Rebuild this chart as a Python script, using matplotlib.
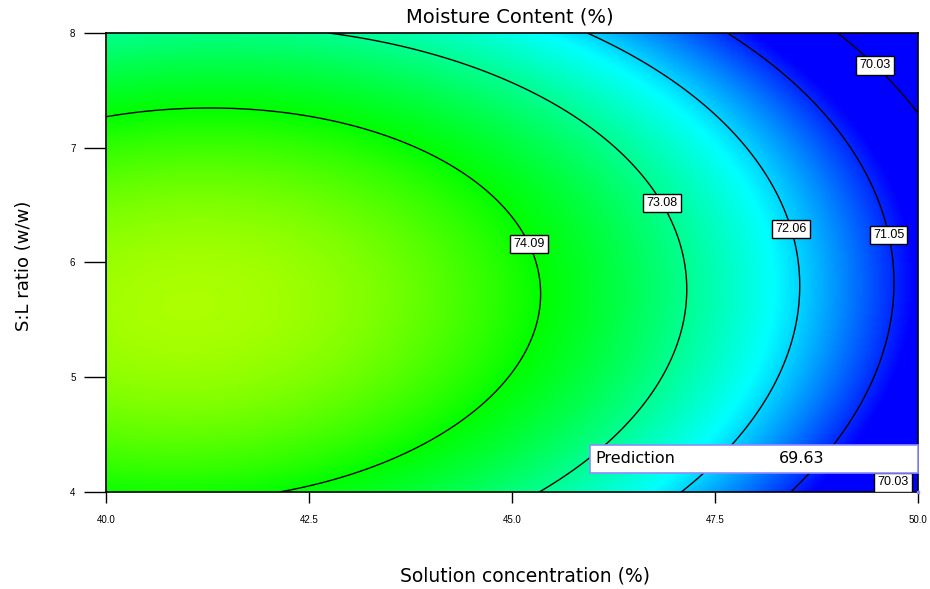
import matplotlib
matplotlib.use("Agg")
import matplotlib.pyplot as plt
import numpy as np
from matplotlib.colors import LinearSegmentedColormap, Normalize
from matplotlib.patches import Rectangle

plt.rcParams['font.family'] = ['DejaVu Sans']

# factor ranges (actual units)
conc_lim = [40.0, 50.0]      # Solution concentration (%)
ratio_lim = [4.0, 8.0]       # S:L ratio (w/w)
conc_ticks = [40.0, 42.5, 45.0, 47.5, 50.0]
ratio_ticks = [4, 5, 6, 7, 8]

# coded quadratic model
# y = b0 + A + B + AB + A^2 + B^2   (A, B coded -1..1)
model_terms = ["b0", "A", "B", "AB", "A2", "B2"]
model_coefs = [74.22, -2.11, -0.385, 0.15, -1.35, -1.365]

contour_levels = [70.03, 71.05, 72.06, 73.08, 74.09]

# colour stops: response value -> colour
color_values = [70.8, 72.3, 74.09, 75.59]
color_list = ["#0000ff", "#00ffff", "#00ff00", "#ffff00"]

pred_point = [50.0, 4.0]
pred_value = 69.63


def moisture(conc, ratio):
    A = (conc - np.mean(conc_lim)) / ((conc_lim[1] - conc_lim[0]) / 2)
    B = (ratio - np.mean(ratio_lim)) / ((ratio_lim[1] - ratio_lim[0]) / 2)
    b = dict(zip(model_terms, model_coefs))
    return (b["b0"] + b["A"] * A + b["B"] * B + b["AB"] * A * B
            + b["A2"] * A ** 2 + b["B2"] * B ** 2)


cx = np.linspace(conc_lim[0], conc_lim[1], 500)
ry = np.linspace(ratio_lim[0], ratio_lim[1], 300)
C, R = np.meshgrid(cx, ry)
Z = moisture(C, R)

v0, v1 = color_values[0], color_values[-1]
stops = [((v - v0) / (v1 - v0), c) for v, c in zip(color_values, color_list)]
cmap = LinearSegmentedColormap.from_list("de", stops)
norm = Normalize(v0, v1)

fig = plt.figure(figsize=(9.3, 5.89), dpi=100)
ax = fig.add_axes([0.114, 0.165, 0.873, 0.779])

ax.imshow(Z, origin="lower", extent=[*conc_lim, *ratio_lim], aspect="auto",
          cmap=cmap, norm=norm, interpolation="bilinear")
cs = ax.contour(C, R, Z, levels=contour_levels, colors="black", linewidths=1.0)

# label placement near the reference positions
label_spots = [(45.26, 6.18), (46.9, 6.54), (48.44, 6.29), (49.57, 6.23),
               (49.45, 7.70), (49.63, 4.12)]
labels = ax.clabel(cs, fmt="%.2f", fontsize=9, inline=False, manual=label_spots)
for t in labels:
    t.set_rotation(0)
    t.set_color("black")
    t.set_family("Liberation Sans")
    t.set_bbox(dict(boxstyle="square,pad=0.25", fc="white", ec="black", lw=1.0))

# prediction flag
ax.add_patch(Rectangle((0.596, 0.041), 0.404, 0.061, transform=ax.transAxes,
                       fc="white", ec="#8c8cff", lw=1.2, zorder=5, clip_on=False))
ax.text(0.603, 0.072, "Prediction", transform=ax.transAxes, va="center",
        fontsize=11.5, zorder=6)
ax.text(0.829, 0.072, f"{pred_value:.2f}", transform=ax.transAxes, va="center",
        fontsize=11.5, zorder=6)
ax.plot(*pred_point, marker="s", ms=2, color="#8c8cff", clip_on=False, zorder=6)

ax.set_xlim(conc_lim)
ax.set_ylim(ratio_lim)
ax.set_xticks(conc_ticks)
ax.set_xticklabels([f"{v:.1f}" for v in conc_ticks])
ax.set_yticks(ratio_ticks)
ax.tick_params(axis="x", direction="out", length=8, width=1, labelsize=7, pad=9)
ax.tick_params(axis="y", direction="out", length=16, width=1, labelsize=7, pad=6)
for lab in ax.get_xticklabels() + ax.get_yticklabels():
    lab.set_family("Liberation Sans")
for s in ax.spines.values():
    s.set_linewidth(1.2)

fig.text(510 / 930, 1 - 17 / 589, "Moisture Content (%)", ha="center",
         va="center", fontsize=14)
fig.text(525 / 930, 1 - 576 / 589, "Solution concentration (%)", ha="center",
         va="center", fontsize=13.5)
fig.text(24 / 930, 1 - 266 / 589, "S:L ratio (w/w)", ha="center",
         va="center", rotation=90, fontsize=13)

fig.savefig("out.png", dpi=100)
